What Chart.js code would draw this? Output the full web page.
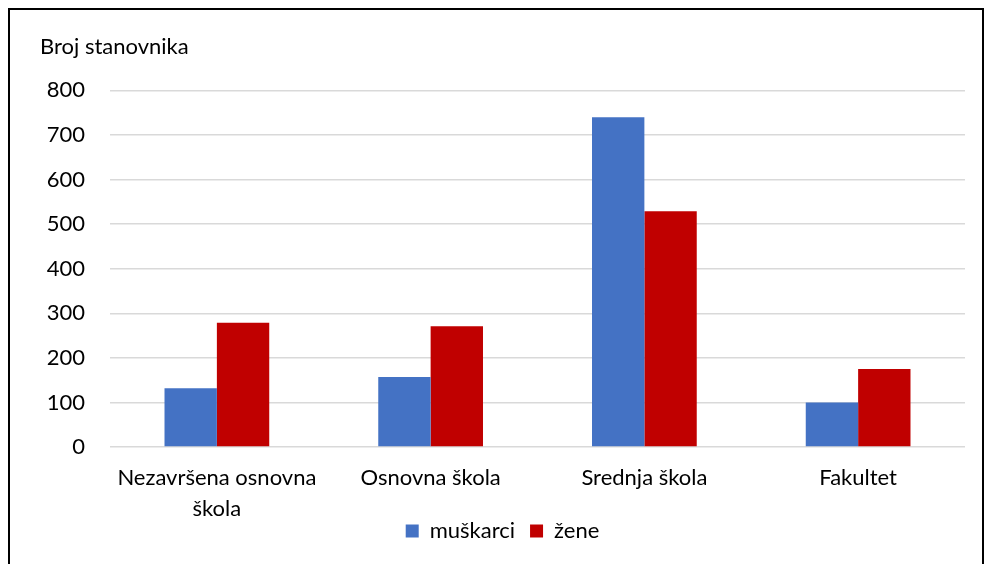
<!DOCTYPE html>
<html>
<head>
<meta charset="utf-8">
<script src="https://cdn.jsdelivr.net/npm/chart.js@4/dist/chart.umd.min.js"></script>
<style>
  body { margin: 0; background: #fff; }
  #box {
    position: absolute; left: 8px; top: 8px;
    width: 972px; height: 600px;
    border: 2px solid #000;
  }
</style>
</head>
<body>
<div id="box"><canvas id="chart" width="972" height="600"></canvas></div>
<script>
const categories = [["Nezavršena osnovna", "škola"], "Osnovna škola", "Srednja škola", "Fakultet"];
const muskarci = [132, 157, 740, 100];
const zene = [279, 271, 529, 175];
const yTicks = [0, 100, 200, 300, 400, 500, 600, 700, 800];

const FONT = "Lato, 'Open Sans', sans-serif";
const textColor = "#000";

// the wrapped category label runs into the legend band, as in Excel; let it draw there
const unclipLabels = {
  id: "unclipLabels",
  afterLayout(chart) { chart.scales.x.bottom += 40; }
};

new Chart(document.getElementById("chart"), {
  type: "bar",
  data: {
    labels: categories,
    datasets: [
      { label: "muškarci", data: muskarci, backgroundColor: "#4472c4" },
      { label: "žene", data: zene, backgroundColor: "#c00000" }
    ]
  },
  plugins: [unclipLabels],
  options: {
    responsive: false,
    animation: false,
    devicePixelRatio: 1,
    layout: { padding: { left: 30, right: 17, top: 0, bottom: 58 } },
    datasets: { bar: { categoryPercentage: 0.49, barPercentage: 1 } },
    plugins: {
      title: {
        display: true,
        text: "Broj stanovnika",
        align: "start",
        color: textColor,
        font: { family: FONT, size: 22, weight: "normal" },
        padding: { top: 24, bottom: 30 }
      },
      legend: {
        position: "bottom",
        labels: {
          color: textColor,
          font: { family: FONT, size: 22 },
          boxWidth: 13,
          boxHeight: 13,
          padding: 15
        }
      },
      tooltip: { enabled: false }
    },
    scales: {
      x: {
        afterFit: (axis) => { axis.height = 58; },
        grid: { display: false },
        border: { display: false },
        ticks: {
          color: textColor,
          font: { family: FONT, size: 22, lineHeight: 1.38 },
          maxRotation: 0,
          padding: 8
        }
      },
      y: {
        min: 0,
        max: 800,
        afterBuildTicks: (axis) => { axis.ticks = yTicks.map(v => ({ value: v })); },
        afterFit: (axis) => { axis.width = 70; },
        grid: { color: "#d9d9d9", lineWidth: 1.5, drawTicks: false },
        border: { display: false },
        ticks: {
          color: textColor,
          font: { family: FONT, size: 22 },
          padding: 25
        }
      }
    }
  }
});
</script>
</body>
</html>
